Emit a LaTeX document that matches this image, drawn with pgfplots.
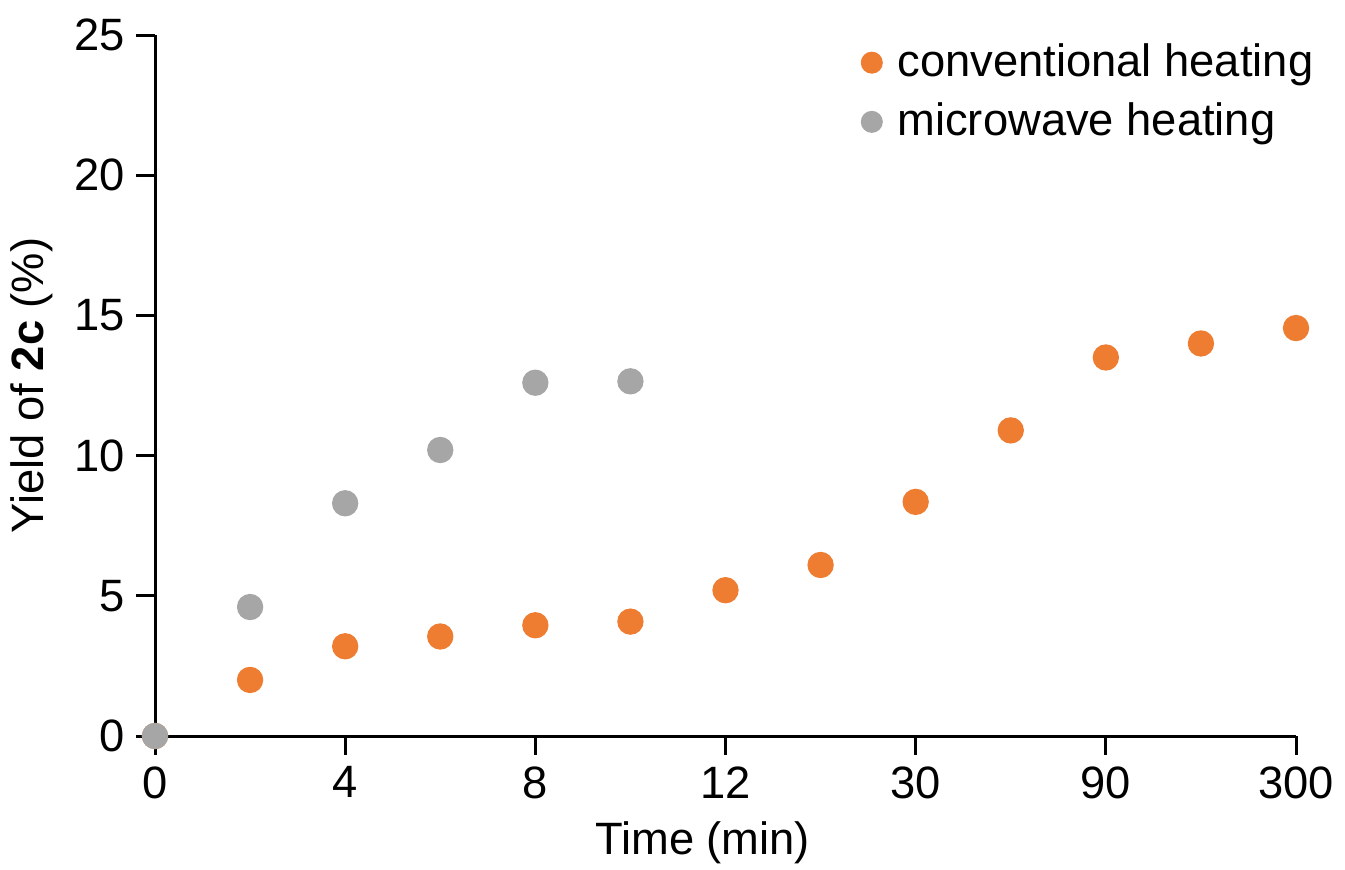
\documentclass[border=0pt]{standalone}
\usepackage{fontspec}
\setmainfont{Liberation Sans}
\usepackage{pgfplots}
\pgfplotsset{compat=1.18}
\definecolor{convorange}{HTML}{EE7D31}
\definecolor{microgray}{HTML}{A6A6A6}

% x positions are evenly spaced sampling points (index 0..12)
\pgfplotstableread{
idx yield
0  0
1  2.0
2  3.2
3  3.55
4  3.95
5  4.08
6  5.2
7  6.1
8  8.35
9  10.9
10 13.5
11 14.0
12 14.55
}\conventional
\pgfplotstableread{
idx yield
0  0
1  4.6
2  8.3
3  10.2
4  12.6
5  12.65
}\microwave

\begin{document}
\begin{tikzpicture}
\path[use as bounding box] (-46.5pt,-39.9pt) rectangle (357pt,220.8pt);
\begin{axis}[
    scale only axis,
    width=342.3pt,
    height=210.3pt,
    xmin=0, xmax=12,
    ymin=0, ymax=25,
    axis lines=left,
    axis line style={line width=0.9pt,-},
    every tick/.style={black,line width=0.9pt},
    tick align=outside,
    major tick length=5.6pt,
    xtick={0,2,4,6,8,10,12},
    xticklabels={0,4,8,12,30,90,300},
    ytick={0,5,10,15,20,25},
    font=\fontsize{13.6pt}{16pt}\selectfont,
    tick label style={font=\fontsize{13.6pt}{16pt}\selectfont},
    /pgf/number format/assume math mode=true,
    xlabel={Time (min)},
    ylabel={Yield of \textbf{2c} (\%)},
    xlabel style={at={(axis description cs:0.48,0)},anchor=center,yshift=-32pt},
    ylabel style={at={(axis description cs:0,0.5)},anchor=center,yshift=37pt},
    clip=false,
    legend style={
        at={(rel axis cs:0.618,0.998)},
        anchor=north west,
        draw=none,
        fill=none,
        font=\fontsize{13.6pt}{16pt}\selectfont,
        row sep=2.4pt,
        inner sep=0pt,
        /tikz/every odd column/.append style={column sep=2.4pt},
    },
    legend cell align=left,
]
\addplot[only marks, mark=*, mark size=3.75pt, color=convorange,
    legend image code/.code={\fill[convorange] (0pt,0pt) circle (3.1pt);}]
    table[x=idx,y=yield] {\conventional};
\addlegendentry{conventional heating}
\addplot[only marks, mark=*, mark size=3.75pt, color=microgray,
    legend image code/.code={\fill[microgray] (0pt,0pt) circle (3.1pt);}]
    table[x=idx,y=yield] {\microwave};
\addlegendentry{microwave heating}
\end{axis}
\end{tikzpicture}
\end{document}
